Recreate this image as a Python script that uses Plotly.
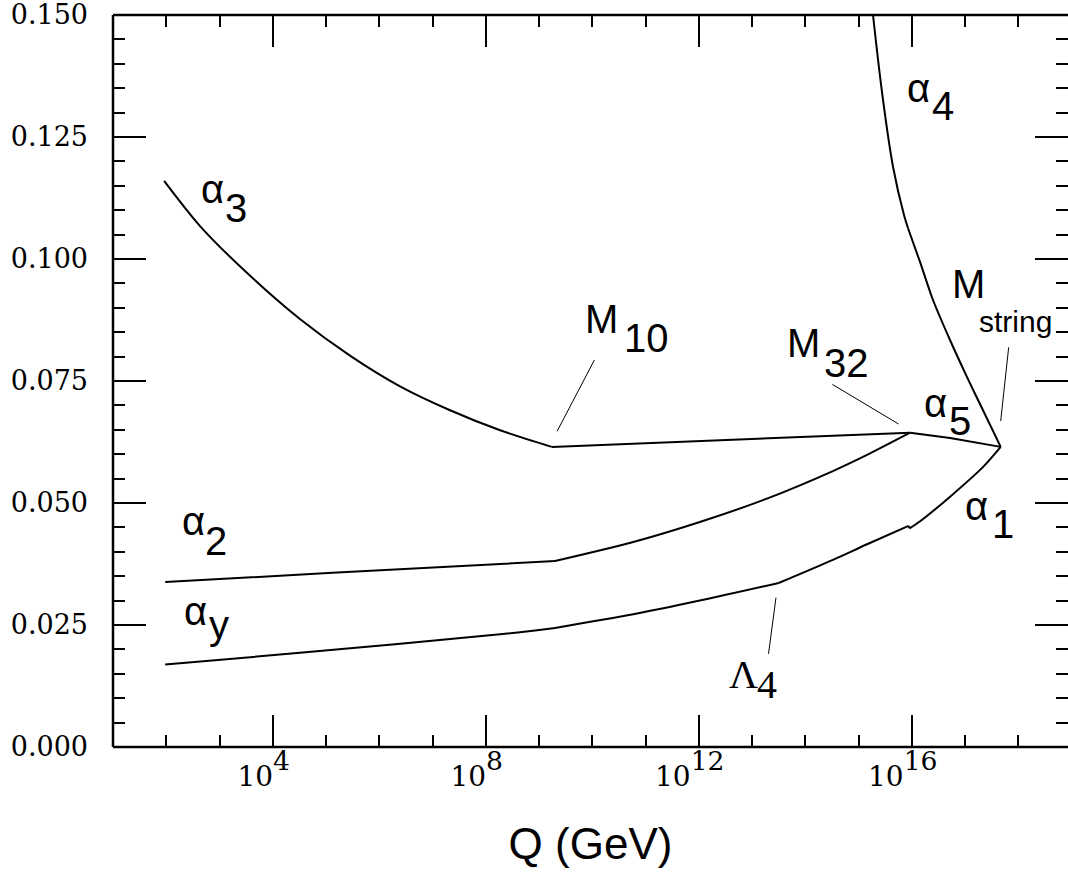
import plotly.graph_objects as go

# ---- data (x given as log10 Q, Q in GeV) ----
a3_logq = [1.96, 2.63, 3.57, 4.51, 5.45, 6.39, 7.33, 8.27, 9.24]
a3_val = [0.1160, 0.1068, 0.0966, 0.0877, 0.0802, 0.0739, 0.0690, 0.0649, 0.0615]

a10_logq = [9.24, 12.65, 15.97]
a10_val = [0.0615, 0.0630, 0.0644]

a5_logq = [15.97, 16.72, 17.67]
a5_val = [0.0644, 0.0633, 0.0615]

a2_low_logq = [1.98, 5.12, 9.30]
a2_low_val = [0.0338, 0.0357, 0.0381]
a2_high_logq = [9.30, 10.77, 12.02, 13.28, 14.53, 15.15, 15.97]
a2_high_val = [0.0381, 0.0420, 0.0461, 0.0509, 0.0566, 0.0598, 0.0644]

ay_a_logq = [1.98, 4.51, 8.27, 9.30]
ay_a_val = [0.0169, 0.0193, 0.0231, 0.0244]
ay_b_logq = [9.30, 10.77, 12.02, 13.50]
ay_b_val = [0.0244, 0.0272, 0.0300, 0.0336]
ay_c_logq = [13.50, 14.53, 15.15, 15.94, 15.96]
ay_c_val = [0.0336, 0.0384, 0.0415, 0.0453, 0.0448]
a1_logq = [15.96, 16.15, 16.72, 17.34, 17.67]
a1_val = [0.0448, 0.0462, 0.0513, 0.0574, 0.0615]

a4_hi_logq = [15.225, 15.272, 15.460, 15.648, 15.854, 15.930]
a4_hi_val = [0.1550, 0.1500, 0.1326, 0.1189, 0.1090, 0.1063]
a4_lo_logq = [15.930, 16.155, 16.399, 16.718, 17.038, 17.338, 17.670]
a4_lo_val = [0.1063, 0.0994, 0.0916, 0.0834, 0.0758, 0.0690, 0.0615]

# leader lines: (logQ start, logQ end), (value start, value end)
leaders = {
    "M10": ([9.34, 10.04], [0.0647, 0.0793]),
    "M32": ([14.51, 15.75], [0.0743, 0.0662]),
    "Mstring": ([17.82, 17.67], [0.0819, 0.0668]),
    "Lambda4": ([13.45, 13.31], [0.0306, 0.0191]),
}

y_ticks = [0.0, 0.025, 0.05, 0.075, 0.1, 0.125, 0.15]
x_tick_exps = [4, 8, 12, 16]
x_minor_exps = list(range(1, 20))

# labels: (symbol, logQ, value, subscript, logQ, value)
labels = [
    ("α", 2.615, 0.11433, "3", 3.066, 0.11044),
    ("α", 2.258, 0.04627, "2", 2.690, 0.04217),
    ("α", 2.296, 0.02782, "y", 2.765, 0.02495),
    ("M", 9.826, 0.08768, "10", 10.559, 0.08378),
    ("M", 13.620, 0.08276, "32", 14.315, 0.07866),
    ("α", 16.192, 0.07046, "5", 16.662, 0.06677),
    ("α", 15.873, 0.13503, "4", 16.343, 0.13135),
    ("α", 16.962, 0.04934, "1", 17.469, 0.04565),
]
mstring_label = ("M", 16.718, 0.09486, "string", 17.225, 0.08715)
lambda_label = ("Λ", 12.531, 0.01480, "4", 13.056, 0.01275)

SANS = "Liberation Sans, Arial, sans-serif"
SERIF = "Liberation Serif, Times New Roman, serif"
TICKFONT = "DejaVu Serif, serif"

fig = go.Figure()

def curve(lq, v, shape="linear"):
    fig.add_trace(go.Scatter(x=[10 ** e for e in lq], y=v, mode="lines",
                             line=dict(color="black", width=2, shape=shape, smoothing=0.8),
                             hoverinfo="skip", showlegend=False))

curve(a3_logq, a3_val, "spline")
curve(a10_logq, a10_val)
curve(a5_logq, a5_val)
curve(a2_low_logq, a2_low_val, "spline")
curve(a2_high_logq, a2_high_val, "spline")
curve(ay_a_logq, ay_a_val, "spline")
curve(ay_b_logq, ay_b_val, "spline")
curve(ay_c_logq[:-1], ay_c_val[:-1], "spline")
curve(ay_c_logq[-2:], ay_c_val[-2:])
curve(a1_logq, a1_val, "spline")
curve(a4_hi_logq, a4_hi_val, "spline")
curve(a4_lo_logq, a4_lo_val, "spline")

for name, (lq, v) in leaders.items():
    fig.add_trace(go.Scatter(x=[10 ** e for e in lq], y=v, mode="lines",
                             line=dict(color="black", width=1), hoverinfo="skip",
                             showlegend=False))

annotations = []

def add_label(sym, sx, sy, sub, bx, by, font, size_main=40, size_sub=40):
    annotations.append(dict(x=sx, y=sy, xref="x", yref="y", text=sym, showarrow=False,
                            xanchor="left", yanchor="middle",
                            font=dict(family=font, size=size_main, color="black")))
    annotations.append(dict(x=bx, y=by, xref="x", yref="y", text=sub, showarrow=False,
                            xanchor="left", yanchor="middle",
                            font=dict(family=font, size=size_sub, color="black")))

for lab in labels:
    add_label(*lab, SANS)
add_label(*mstring_label, SANS, 40, 30)
add_label(*lambda_label, SERIF, 40, 40)

frame = dict(type="line", xref="paper", yref="paper", line=dict(color="black", width=2.5))
shapes = [
    dict(frame, x0=0, x1=0, y0=0, y1=1),
    dict(frame, x0=0, x1=1, y0=0, y1=0),
    dict(frame, x0=0, x1=1, y0=1, y1=1),
]

fig.update_layout(
    width=1068, height=877,
    margin=dict(l=113, r=0, t=15, b=130, autoexpand=False),
    paper_bgcolor="white", plot_bgcolor="white",
    annotations=annotations, shapes=shapes,
    showlegend=False,
)

fig.update_xaxes(
    type="log", range=[1, 18.934], automargin=False,
    tickmode="array", tickvals=[10 ** e for e in x_tick_exps],
    ticktext=[f"<span style='font-size:28px'>10</span><sup>{e}</sup>" for e in x_tick_exps],
    ticks="inside", ticklen=32, tickwidth=2, tickcolor="black",
    showline=False, mirror="ticks", showgrid=False, zeroline=False,
    tickfont=dict(family=TICKFONT, size=38, color="black"),
    ticklabelshift=-9,
    minor=dict(tickmode="array", tickvals=[10 ** e for e in x_minor_exps],
               ticks="inside", ticklen=12, tickwidth=2, tickcolor="black", showgrid=False),
    title=dict(text="Q (GeV)", font=dict(family=SANS, size=44, color="black"), standoff=36),
)

fig.update_yaxes(
    range=[0, 0.15], tickmode="array", tickvals=y_ticks, tickformat=".3f", automargin=False,
    ticks="inside", ticklen=33, tickwidth=2, tickcolor="black",
    showline=False, mirror="ticks", showgrid=False, zeroline=False,
    tickfont=dict(family=TICKFONT, size=27, color="black"),
    ticklabelstandoff=24, ticklabeloverflow="allow",
    minor=dict(dtick=0.005, ticks="inside", ticklen=12, tickwidth=2, tickcolor="black", showgrid=False),
)

# remove the default page margin so the figure fills the window exactly
fig.write_html("out.html", config={"displayModeBar": False},
               post_script="document.body.style.margin='0';")
